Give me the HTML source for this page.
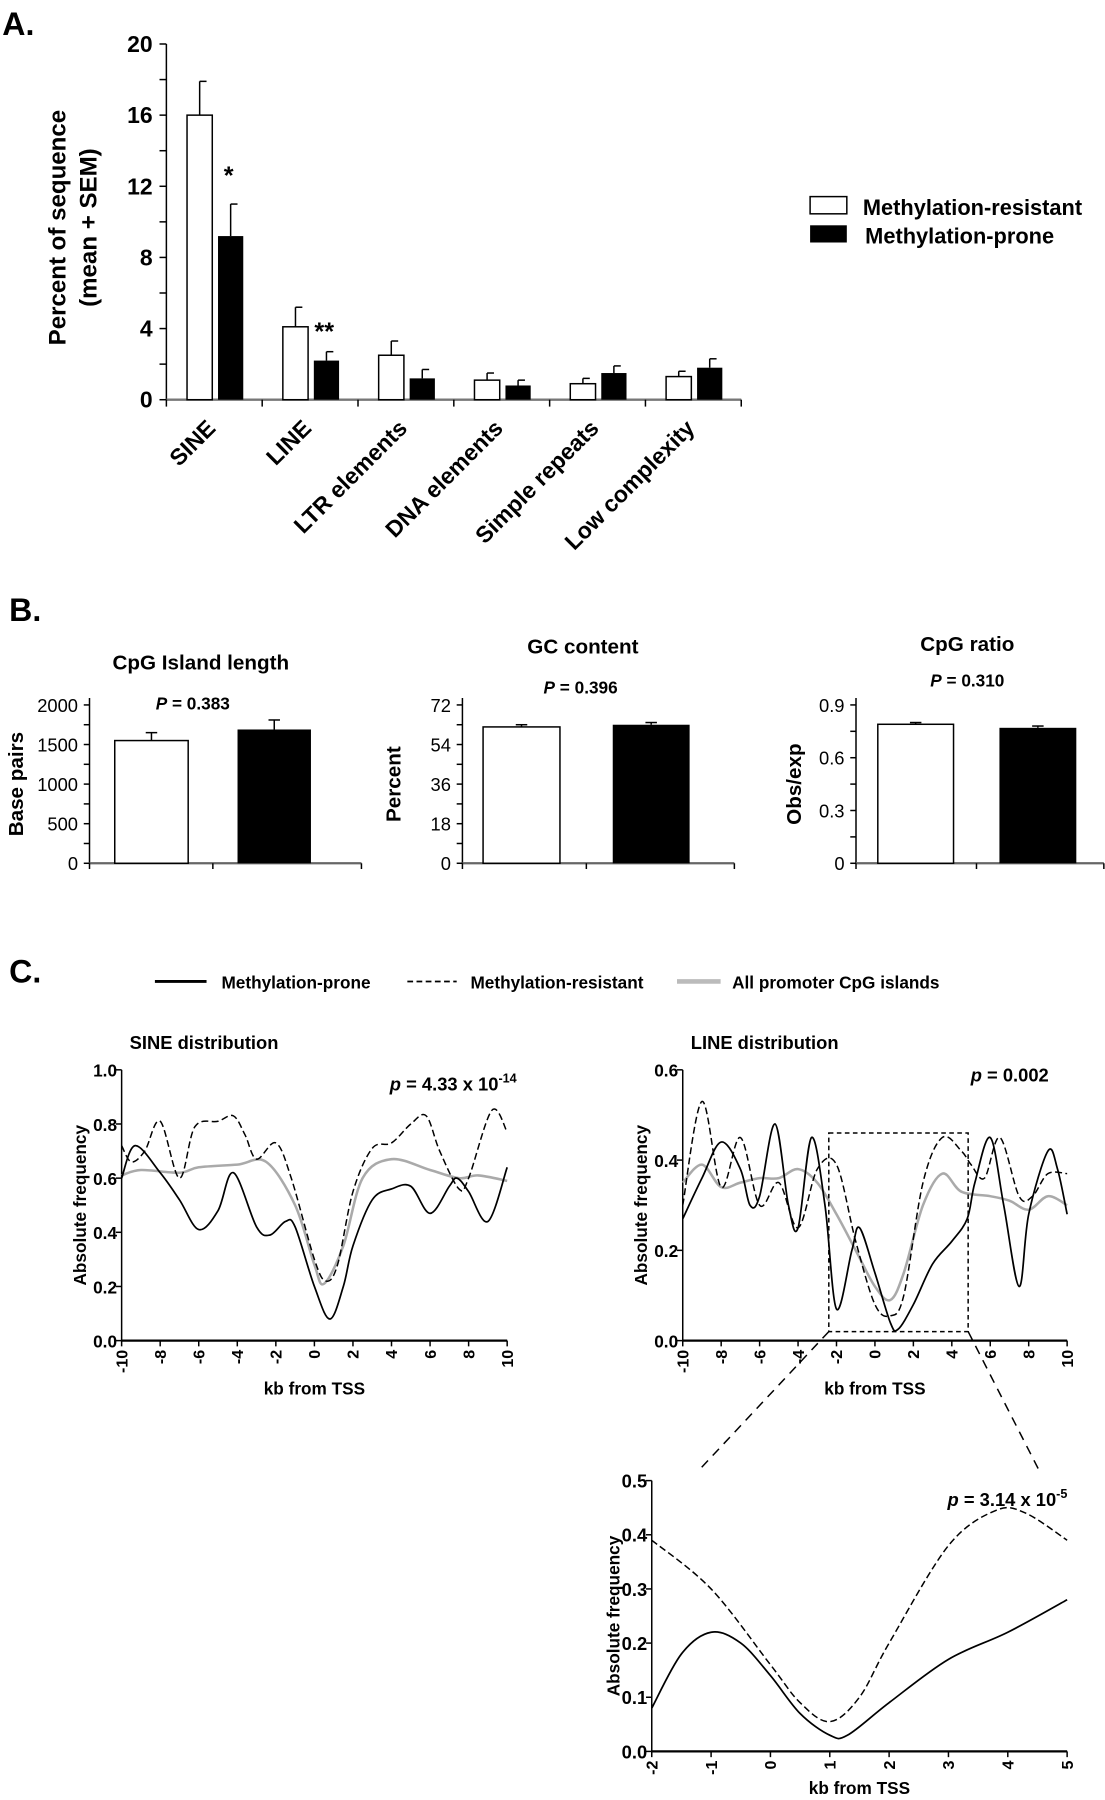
<!DOCTYPE html>
<html><head><meta charset="utf-8"><style>
html,body{margin:0;padding:0;background:#fff;}
svg{display:block;font-family:"Liberation Sans",Arial,sans-serif;font-weight:bold;}
</style></head><body>
<svg id="fig" width="1105" height="1800" viewBox="0 0 963 1568" xmlns="http://www.w3.org/2000/svg">
<g id="root"></g>
</svg>
<script>
// ---------- Panel A data ----------
const aCategories = ["SINE","LINE","LTR elements","DNA elements","Simple repeats","Low complexity"];
const aResistant = [16.0, 4.1, 2.5, 1.1, 0.9, 1.3];
const aResistantErr = [1.9, 1.1, 0.8, 0.4, 0.3, 0.3];
const aProne = [9.2, 2.2, 1.2, 0.8, 1.5, 1.8];
const aProneErr = [1.8, 0.5, 0.5, 0.3, 0.4, 0.5];
const aTicks = [0,4,8,12,16,20];
// ---------- Panel B data ----------
const bTitles = ["CpG Island length","GC content","CpG ratio"];
const bYTitles = ["Base pairs","Percent","Obs/exp"];
const bPvals = ["0.383","0.396","0.310"];
const bResistant = [1550, 62, 0.79];
const bResistantErr = [100, 1, 0.01];
const bProne = [1690, 63, 0.77];
const bProneErr = [120, 1, 0.01];
const bTicks1 = [0,500,1000,1500,2000];
const bTicks2 = [0,18,36,54,72];
const bTicks3 = ["0","0.3","0.6","0.9"];
// ---------- Panel C data ----------
const sineX_prone = [-10,-9.3,-8,-7,-6,-5,-4.2,-3,-2.3,-1.5,-1,0,0.8,1.5,2,3,4,5,6,7,7.4,8,9,10];
const sineY_prone = [0.6,0.72,0.62,0.52,0.41,0.48,0.62,0.42,0.39,0.44,0.42,0.2,0.08,0.2,0.35,0.52,0.56,0.57,0.47,0.57,0.6,0.55,0.44,0.64];
const sineX_res = [-10,-9.5,-8.8,-8,-7,-6.2,-5,-4.2,-3.6,-3,-2,-1.2,0,0.6,1.2,2,3,4,5,5.8,6.5,7.5,8,9.2,10];
const sineY_res = [0.72,0.66,0.7,0.81,0.6,0.79,0.81,0.83,0.76,0.67,0.73,0.6,0.3,0.22,0.28,0.55,0.71,0.73,0.8,0.83,0.7,0.56,0.6,0.85,0.77];
const sineX_all = [-10,-9,-7,-6,-4,-2.5,-1,0,0.5,1.5,2.5,4,6,7.5,8.5,10];
const sineY_all = [0.61,0.63,0.62,0.64,0.65,0.66,0.5,0.28,0.21,0.35,0.6,0.67,0.63,0.6,0.61,0.59];
const lineX_prone = [-10,-9,-8,-7,-6.5,-6,-5.2,-4.5,-4,-3.3,-2.6,-2,-1.2,-0.8,0,0.8,1.2,2,3,4,4.8,5.2,6,6.7,7.5,8,9,9.5,10];
const lineY_prone = [0.27,0.36,0.44,0.38,0.3,0.32,0.48,0.3,0.25,0.45,0.3,0.07,0.2,0.25,0.15,0.04,0.025,0.08,0.17,0.22,0.27,0.35,0.45,0.3,0.12,0.28,0.42,0.38,0.28];
const lineX_res = [-10,-9,-8,-7,-6,-5,-4,-3,-2,-1,0,0.8,1.5,2.5,3.5,4.5,5,5.7,6.5,7.5,8.2,9,10];
const lineY_res = [0.3,0.53,0.34,0.45,0.3,0.35,0.25,0.38,0.39,0.22,0.08,0.055,0.1,0.35,0.45,0.42,0.39,0.36,0.45,0.32,0.32,0.37,0.37];
const lineX_all = [-10,-9,-8,-7,-6,-5,-4,-3,-2,-1,0,0.8,1.5,2.5,3.5,4.5,6,7,8,9,10];
const lineY_all = [0.35,0.39,0.34,0.35,0.36,0.36,0.38,0.35,0.28,0.2,0.12,0.09,0.15,0.3,0.37,0.33,0.32,0.31,0.29,0.32,0.3];
const zoomX_prone = [-2,-1.5,-1,-0.5,0,0.5,1,1.3,2,3,4,5];
const zoomY_prone = [0.08,0.18,0.22,0.2,0.14,0.07,0.03,0.03,0.09,0.17,0.22,0.28];
const zoomX_res = [-2,-1,0,0.5,1,1.5,2,3,3.8,4.3,5];
const zoomY_res = [0.39,0.3,0.16,0.09,0.055,0.1,0.2,0.38,0.445,0.44,0.39];
const cXTicks = [-10,-8,-6,-4,-2,0,2,4,6,8,10];
const zXTicks = [-2,-1,0,1,2,3,4,5];

const NS="http://www.w3.org/2000/svg";
const root=document.getElementById('root');
function el(tag,attrs,parent,txt){const e=document.createElementNS(NS,tag);for(const k in attrs)e.setAttribute(k,attrs[k]);if(txt!==undefined)e.textContent=txt;(parent||root).appendChild(e);return e;}
function line(x1,y1,x2,y2,p,extra){const l=el('line',Object.assign({x1,y1,x2,y2,stroke:'#000','stroke-width':1.3},extra||{}),p);

return l;}
function text(x,y,s,size,p,extra){const t=el('text',Object.assign({x,y,'font-size':size},extra||{}),p,s);

return t;}

// ========== Panel A ==========
const gA=el('g',{});


text(2,30,"A.",28,gA);
const aX0=145,aXend=646,aY0=348,aYtop=38,aMax=20;
const ay=v=>aY0-(v/aMax)*(aY0-aYtop);
line(aX0,aYtop,aX0,aY0,gA);
line(aX0,aY0,aXend,aY0,gA,{stroke:'#777','stroke-width':2});
for(let v=0;v<=20;v+=2){line(aX0-6,ay(v),aX0,ay(v),gA);}
aTicks.forEach(v=>{const t=text(aX0-12,ay(v)+7,String(v),20,gA,{'text-anchor':'end'});});
const aStep=(aXend-aX0)/6;
for(let i=0;i<=6;i++)line(aX0+i*aStep,aY0,aX0+i*aStep,aY0+6,gA);
const at1=text(57,198,"Percent of sequence",21,gA,{'text-anchor':'middle',transform:'rotate(-90 57 198)'});

text(84,198,"(mean + SEM)",21,gA,{'text-anchor':'middle',transform:'rotate(-90 84 198)'});
aCategories.forEach((c,i)=>{
  const gx=aX0+i*aStep;
  const w=22;
  const x1=gx+18,x2=gx+45;
  const r=el('rect',{x:x1,y:ay(aResistant[i]),width:w,height:aY0-ay(aResistant[i]),fill:'#fff',stroke:'#000','stroke-width':1.3},gA);
  
  
  line(x1+w/2,ay(aResistant[i]),x1+w/2,ay(aResistant[i]+aResistantErr[i]),gA);
  line(x1+w/2,ay(aResistant[i]+aResistantErr[i]),x1+w/2+6,ay(aResistant[i]+aResistantErr[i]),gA);
  const b=el('rect',{x:x2,y:ay(aProne[i]),width:w,height:aY0-ay(aProne[i]),fill:'#000'},gA);
  
  
  line(x2+w/2,ay(aProne[i]),x2+w/2,ay(aProne[i]+aProneErr[i]),gA);
  line(x2+w/2,ay(aProne[i]+aProneErr[i]),x2+w/2+6,ay(aProne[i]+aProneErr[i]),gA);
  const lx=gx+44,ly=374;
  const t=text(lx,ly,c,20,gA,{'text-anchor':'end',transform:`rotate(-45 ${lx} ${ly})`});
  
});
text(195,160,"*",22,gA);
text(274,296,"**",22,gA);
const lg=el('g',{},gA);


el('rect',{x:706,y:171,width:32,height:15,fill:'#fff',stroke:'#000','stroke-width':1.3},lg);
el('rect',{x:706,y:196,width:32,height:15,fill:'#000'},lg);
text(752,187,"Methylation-resistant",19,lg);
text(754,212,"Methylation-prone",19,lg);

// ========== Panel B ==========
text(8,541,"B.",28);
const bConf=[
 {x0:78,xend:315,max:2000,ticks:bTicks1,minor:250,w1:[100,164],w2:[207,271],tx:175,ty:583,px:168,py:618,yt:20},
 {x0:403,xend:640,max:72,ticks:bTicks2,minor:9,w1:[421,488],w2:[534,601],tx:508,ty:569,px:506,py:604,yt:349},
 {x0:746,xend:962,max:0.9,ticks:bTicks3.map(Number),minor:0.15,w1:[765,831],w2:[871,938],tx:843,ty:567,px:843,py:598,yt:698}
];
const bY0=752,bYtop=614;
bConf.forEach((c,i)=>{
  const g=el('g',{});
  
  
  const by=v=>bY0-(v/c.max)*(bY0-bYtop);
  line(c.x0,bYtop-6,c.x0,bY0,g);
  line(c.x0,bY0,c.xend,bY0,g,{stroke:'#666','stroke-width':2});
  for(let v=0;v<=c.max+1e-9;v+=c.minor)line(c.x0-5,by(v),c.x0,by(v),g);
  const labs=i===2?bTicks3:c.ticks.map(String);
  c.ticks.forEach((v,k)=>{const t=text(c.x0-10,by(v)+6,labs[k],16,g,{'text-anchor':'end','font-weight':'normal'});});
  [c.x0,(c.w1[1]+c.w2[0])/2,c.xend].forEach(x=>line(x,bY0,x,bY0+5,g));
  const yt=text(c.yt,683,bYTitles[i],18,g,{'text-anchor':'middle',transform:`rotate(-90 ${c.yt} 683)`});
  
  const tt=text(c.tx,c.ty,bTitles[i],18,g,{'text-anchor':'middle'});
  
  const pt=text(c.px,c.py,"",15,g,{'text-anchor':'middle'});
  
  el('tspan',{'font-style':'italic'},pt,"P");el('tspan',{},pt," = "+bPvals[i]);
  const r=el('rect',{x:c.w1[0],y:by(bResistant[i]),width:c.w1[1]-c.w1[0],height:bY0-by(bResistant[i]),fill:'#fff',stroke:'#000','stroke-width':1.3},g);
  
  
  const m1=(c.w1[0]+c.w1[1])/2;
  line(m1,by(bResistant[i]),m1,by(bResistant[i]+bResistantErr[i]),g);
  line(m1-5,by(bResistant[i]+bResistantErr[i]),m1+5,by(bResistant[i]+bResistantErr[i]),g);
  const b=el('rect',{x:c.w2[0],y:by(bProne[i]),width:c.w2[1]-c.w2[0],height:bY0-by(bProne[i]),fill:'#000'},g);
  
  
  const m2=(c.w2[0]+c.w2[1])/2;
  line(m2,by(bProne[i]),m2,by(bProne[i]+bProneErr[i]),g);
  line(m2-5,by(bProne[i]+bProneErr[i]),m2+5,by(bProne[i]+bProneErr[i]),g);
});

// ========== Panel C ==========
text(8,856,"C.",28);
const lgC=el('g',{});


line(135,855,180,855,lgC,{'stroke-width':2.5});
text(193,861,"Methylation-prone",15,lgC);
line(355,855,398,855,lgC,{'stroke-width':1.5,'stroke-dasharray':'5,3'});
text(410,861,"Methylation-resistant",15,lgC);
line(590,855,628,855,lgC,{stroke:'#bbb','stroke-width':4});
text(638,861,"All promoter CpG islands",15,lgC);

function spline(pts){
  let d=`M${pts[0][0]},${pts[0][1]}`;
  for(let i=0;i<pts.length-1;i++){
    const p0=pts[Math.max(0,i-1)],p1=pts[i],p2=pts[i+1],p3=pts[Math.min(pts.length-1,i+2)];
    const c1=[p1[0]+(p2[0]-p0[0])/6,p1[1]+(p2[1]-p0[1])/6];
    const c2=[p2[0]-(p3[0]-p1[0])/6,p2[1]-(p3[1]-p1[1])/6];
    d+=` C${c1[0]},${c1[1]} ${c2[0]},${c2[1]} ${p2[0]},${p2[1]}`;
  }
  return d;
}
function lineChart(o){
  const g=el('g',{});
  
  
  const sx=v=>o.x0+(v-o.xmin)/(o.xmax-o.xmin)*(o.x1-o.x0);
  const sy=v=>o.y0-(v/o.ymax)*(o.y0-o.ytop);
  line(o.x0,o.ytop,o.x0,o.y0,g);
  line(o.x0,o.y0,o.x1,o.y0,g,{'stroke-width':2});
  o.yticks.forEach(v=>{line(o.x0-5,sy(v),o.x0,sy(v),g);
    const t=text(o.x0-4,sy(v)+6,v.toFixed(1),o.tick||15,g,{'text-anchor':'end'});});
  o.xticks.forEach(v=>{line(sx(v),o.y0,sx(v),o.y0+5,g);
    const tx=sx(v)+5,ty=o.y0+8;
    const t=text(tx,ty,String(v),14,g,{'text-anchor':'end',transform:`rotate(-90 ${tx} ${ty})`});});
  const xt=text((o.x0+o.x1)/2,o.xlabY,"kb from TSS",15,g,{'text-anchor':'middle'});
  
  const yc=(o.y0+o.ytop)/2;
  const yt=text(o.ytX,yc,"Absolute frequency",15,g,{'text-anchor':'middle',transform:`rotate(-90 ${o.ytX} ${yc})`});
  
  if(o.title){const t=text(o.x0+7,o.y0-254,o.title,16,g);}
  const pt=text(o.px,o.py,"",16,g,{'text-anchor':'middle'});
  
  el('tspan',{'font-style':'italic'},pt,"p");el('tspan',{},pt," = "+o.p);
  if(o.sup)el('tspan',{dy:-7,'font-size':11},pt,o.sup);
  o.series.forEach(s=>{
    const pts=s.x.map((v,i)=>[sx(v),sy(s.y[i])]);
    const p=el('path',{d:spline(pts),fill:'none',stroke:s.color,'stroke-width':s.w,'stroke-dasharray':s.dash||'none'},g);
    
    
  });
  return {sx,sy,g};
}
lineChart({name:'sine-distribution-chart',title:'SINE distribution',x0:106,x1:442,xmin:-10,xmax:10,y0:1168,ytop:932,ymax:1.0,
  yticks:[0,0.2,0.4,0.6,0.8,1.0],xticks:cXTicks,xlabY:1215,ytX:75,px:395,py:950,p:'4.33 x 10',sup:'-14',
  series:[{name:'sine-all-line',x:sineX_all,y:sineY_all,color:'#aaa',w:2.2},
          {name:'sine-resistant-line',x:sineX_res,y:sineY_res,color:'#000',w:1.3,dash:'6,3'},
          {name:'sine-prone-line',x:sineX_prone,y:sineY_prone,color:'#000',w:1.5}]});
const L=lineChart({name:'line-distribution-chart',title:'LINE distribution',x0:595,x1:930,xmin:-10,xmax:10,y0:1168,ytop:932,ymax:0.6,
  yticks:[0,0.2,0.4,0.6],xticks:cXTicks,xlabY:1215,ytX:564,px:880,py:942,p:'0.002',
  series:[{name:'line-all-line',x:lineX_all,y:lineY_all,color:'#aaa',w:2.2},
          {name:'line-resistant-line',x:lineX_res,y:lineY_res,color:'#000',w:1.3,dash:'6,3'},
          {name:'line-prone-line',x:lineX_prone,y:lineY_prone,color:'#000',w:1.5}]});
// zoom box
const bx1=L.sx(-2.4),bx2=L.sx(4.85),by1=L.sy(0.46),by2=L.sy(0.02);
const box=el('rect',{x:bx1,y:by1,width:bx2-bx1,height:by2-by1,fill:'none',stroke:'#000','stroke-width':1.3,'stroke-dasharray':'4,3'});


line(bx1,by2,610,1280,root,{'stroke-dasharray':'8,6'});
line(bx2,by2,905,1280,root,{'stroke-dasharray':'8,6'});
lineChart({name:'line-zoom-chart',x0:568,x1:930,xmin:-2,xmax:5,y0:1526,ytop:1290,ymax:0.5,tick:16,
  yticks:[0,0.1,0.2,0.3,0.4,0.5],xticks:zXTicks,xlabY:1563,ytX:540,px:878,py:1312,p:'3.14 x 10',sup:'-5',
  series:[{name:'zoom-resistant-line',x:zoomX_res,y:zoomY_res,color:'#000',w:1.3,dash:'6,3'},
          {name:'zoom-prone-line',x:zoomX_prone,y:zoomY_prone,color:'#000',w:1.5}]});
</script>
</body></html>
